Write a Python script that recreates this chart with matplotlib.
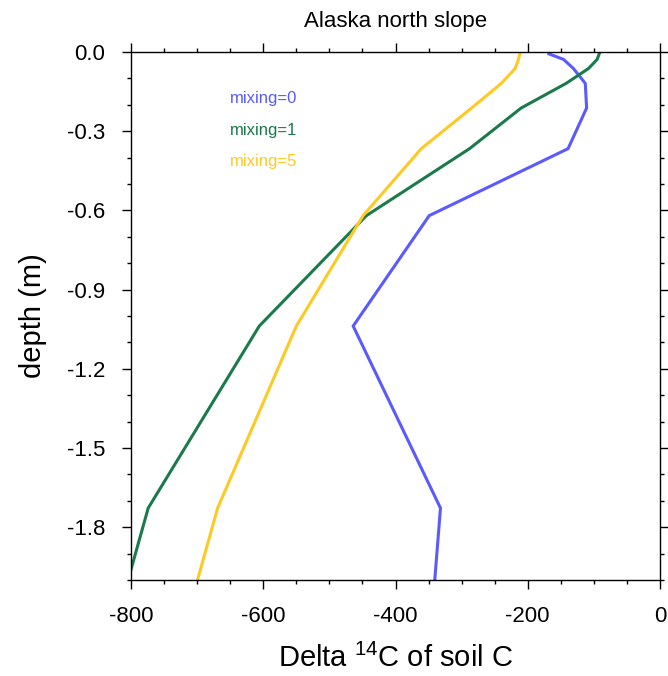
import numpy as np
import matplotlib
matplotlib.use("Agg")
import matplotlib.pyplot as plt
from matplotlib.ticker import MultipleLocator, FormatStrFormatter

plt.rcParams['font.family'] = ['Liberation Sans', 'DejaVu Sans']
plt.rcParams['mathtext.fontset'] = 'custom'
plt.rcParams['mathtext.rm'] = 'Liberation Sans'
plt.rcParams['mathtext.default'] = 'regular'
plt.rcParams['axes.unicode_minus'] = False

# soil layer node depths (m), plotted as negative depth
depth = [-0.0071, -0.0279, -0.0623, -0.1189, -0.2122, -0.3661,
         -0.6198, -1.0380, -1.7276, -2.8646]

# Delta 14C of soil C for each mixing setting
mix0 = [-168, -146, -131, -113, -111, -139, -349, -464, -332, -368]
mix1 = [-92, -95, -108, -142, -210, -288, -444, -606, -774, -901]
mix5 = [-212, -214, -219, -240, -285, -361, -449, -550, -669, -796]

labels = ['mixing=0', 'mixing=1', 'mixing=5']
colors = ['#5a5aff', '#1b7a4b', '#ffc923']

fig = plt.figure(figsize=(6.68, 6.76), dpi=100)
ax = fig.add_axes([131/668, 1 - 580/676, 529/668, 528/676])

for vals, col in zip([mix0, mix1, mix5], colors):
    ax.plot(vals, depth, color=col, lw=2.2, solid_joinstyle='miter')

# text labels in place of a legend box
for i, (lab, col) in enumerate(zip(labels, colors)):
    ax.text(0.187, 0.911 - i * 0.059, lab, color=col, fontsize=12,
            transform=ax.transAxes, va='center', ha='left')

ax.set_xlim(-800, 0)
ax.set_ylim(-2.0, 0.0)
ax.xaxis.set_major_locator(MultipleLocator(200))
ax.xaxis.set_minor_locator(MultipleLocator(50))
ax.yaxis.set_major_locator(MultipleLocator(0.3))
ax.yaxis.set_minor_locator(MultipleLocator(0.1))
ax.yaxis.set_major_formatter(FormatStrFormatter('%.1f'))

ax.tick_params(which='both', direction='out', top=True, right=True,
               labelsize=16, width=1.0)
ax.tick_params(which='major', length=6.5)
ax.tick_params(which='minor', length=3.2)
ax.tick_params(axis='x', pad=12)
ax.tick_params(axis='y', pad=12)
for sp in ax.spines.values():
    sp.set_linewidth(1.0)

ax.set_xlabel('Delta $^{14}$C of soil C', fontsize=21, labelpad=12)
ax.set_ylabel('depth (m)', fontsize=21, labelpad=14)
ax.set_title('Alaska north slope', fontsize=16, pad=18)

fig.savefig('out.png', dpi=100)
